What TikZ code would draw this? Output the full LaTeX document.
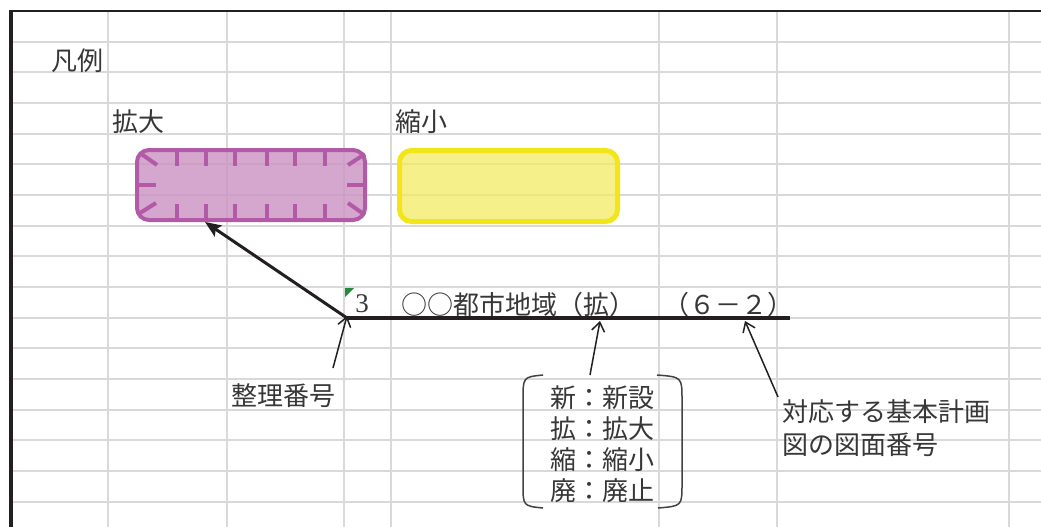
\documentclass[tikz,border=0pt]{standalone}
\usepackage{fontspec}
\newfontfamily\jpfont{Noto Sans CJK JP}
\newfontfamily\numfont{Liberation Serif}
\usetikzlibrary{arrows.meta}
\definecolor{gridgray}{RGB}{217,217,217}
\definecolor{inkblack}{RGB}{35,31,32}
\definecolor{txtgray}{RGB}{55,55,55}
\definecolor{kpurple}{RGB}{178,90,166}
\definecolor{kpurplefill}{RGB}{204,146,194}
\definecolor{kyellow}{RGB}{242,230,26}
\definecolor{kyellowfill}{RGB}{244,235,99}
\definecolor{markgreen}{RGB}{30,140,60}
\tikzset{
  gridline/.style={draw=gridgray, line width=2pt},
  borderline/.style={draw=inkblack, line width=3pt},
  expandbox/.style={draw=kpurple, fill=kpurplefill, fill opacity=0.8, line width=4pt,
    rounded corners=12pt, minimum width=228pt, minimum height=70pt, inner sep=0pt},
  shrinkbox/.style={draw=kyellow, fill=kyellowfill, fill opacity=0.75, line width=5pt,
    rounded corners=12pt, minimum width=218pt, minimum height=71pt, inner sep=0pt},
  tickmark/.style={draw=kpurple, line width=4pt},
  label/.style={text=txtgray, font=\jpfont\fontsize{26}{31}\selectfont, inner sep=0pt},
  mainline/.style={draw=inkblack, line width=4pt},
  boxarrow/.style={draw=inkblack, line width=3pt, -{Stealth[length=16pt,width=13pt,inset=3pt]}},
  pointer/.style={draw=inkblack, line width=1.5pt, -{Straight Barb[length=9pt,width=13pt]}},
  bracketline/.style={draw=inkblack!85, line width=1.5pt}
}
\begin{document}
\begin{tikzpicture}[x=1pt,y=-1pt]
\useasboundingbox (0,0) rectangle (1041,527);
\fill[white] (0,0) rectangle (1041,527);
% grid
\foreach \k in {1,...,16} \draw[gridline] (11,{11+30.67*\k}) -- (1041,{11+30.67*\k});
\foreach \x in {108,227,344,391,659,777,1009} \draw[gridline] (\x,11) -- (\x,527);
\draw[borderline, line width=2pt] (11,11) -- (1041,11);
\draw[borderline, line width=3.5pt] (11,10) -- (11,527);
% labels
\node[label] (hanrei) at (77,61) {凡例};
\node[label] (kakudaiLabel) at (138,122) {拡大};
\node[label] (shukushoLabel) at (421,122) {縮小};
% legend boxes
\node[expandbox] (kakudai) at (251,185) {};
\foreach \x in {177,206,235,267,295,325} {
  \draw[tickmark] (\x,148) -- (\x,166);
  \draw[tickmark] (\x,204) -- (\x,222);
}
\draw[tickmark] (135,185) -- (156,185);
\draw[tickmark] (347,185) -- (367,185);
\draw[tickmark] (140,153) -- (157,165);
\draw[tickmark] (140,213) -- (156,203);
\draw[tickmark] (365,154) -- (348,165);
\draw[tickmark] (365,215) -- (348,203);
\node[shrinkbox] (shukusho) at (508.5,186) {};
% example line
\fill[markgreen] (345,288) -- (354,288) -- (345,297) -- cycle;
\node[label, font=\numfont\fontsize{27}{31}\selectfont] (num) at (362,304) {3};
\node[label] (name) at (518,305) {○○都市地域（拡）};
\node[label] (sheet) at (728,305) {（６－２）};
\coordinate (lineStart) at (347,318);
\coordinate (lineEnd) at (790,318);
\draw[mainline] (lineStart) -- (lineEnd);
\draw[boxarrow] (lineStart) -- ([xshift=-46pt]kakudai.south);
% annotations
\node[label] (seiri) at (283,396) {整理番号};
\coordinate (seiriFrom) at (333,368);
\draw[pointer] (seiriFrom) -- ([yshift=2pt]lineStart);
\node[label, align=center] (types) at (602,444) {新：新設\\拡：拡大\\縮：縮小\\廃：廃止};
\coordinate (typesFrom) at (590,375);
\coordinate (typesTip) at (600,321);
\draw[pointer] (typesFrom) -- (typesTip);
\draw[bracketline] (543,375) .. controls (523,377) .. (523,400) -- (523,484) .. controls (523,506) .. (543,508);
\draw[bracketline] (657,375) .. controls (682,377) .. (682,400) -- (682,484) .. controls (682,506) .. (658,508);
\node[label, align=left, anchor=west, font=\jpfont\fontsize{26}{33}\selectfont] (zumen) at (782,428.5) {対応する基本計画\\図の図面番号};
\coordinate (zumenFrom) at (778,397);
\coordinate (zumenTip) at (745,321);
\draw[pointer] (zumenFrom) -- (zumenTip);
\end{tikzpicture}
\end{document}
